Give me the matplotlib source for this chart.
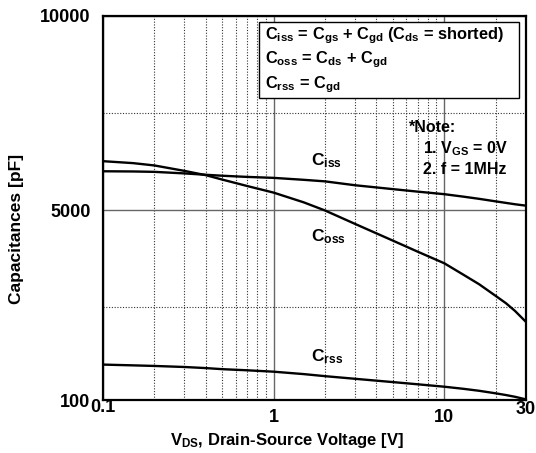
import matplotlib
matplotlib.use("Agg")
import matplotlib.pyplot as plt
import matplotlib.transforms as mtransforms
from matplotlib.ticker import FixedLocator, NullFormatter

plt.rcParams['font.family'] = ['Liberation Sans', 'DejaVu Sans']
plt.rcParams['mathtext.fontset'] = 'custom'
plt.rcParams['mathtext.rm'] = 'Liberation Sans:bold'
plt.rcParams['mathtext.it'] = 'Liberation Sans:bold'
plt.rcParams['mathtext.bf'] = 'Liberation Sans:bold'

# Drain-source voltage [V] and capacitances [pF]
vds = [0.1, 0.15, 0.2, 0.3, 0.4, 0.5, 0.7, 1, 1.5, 2, 3, 5, 7, 10, 13, 16, 20, 23, 26, 30]
ciss = [6000, 5995, 5985, 5945, 5910, 5885, 5855, 5830, 5780, 5740, 5640, 5540, 5475, 5410,
        5345, 5290, 5225, 5185, 5150, 5115]
coss = [6260, 6210, 6150, 6010, 5900, 5786, 5620, 5450, 5200, 4990, 4644, 4213, 3927, 3630,
        3330, 3090, 2790, 2600, 2400, 2126]
crss = [1020, 1000, 985, 958, 930, 902, 873, 837, 775, 722, 654, 569, 512, 450,
        395, 345, 280, 235, 190, 125]

x_ticks = [0.1, 1, 10, 30]
x_tick_labels = ["0.1", "1", "10", "30"]
x_minor = [0.2, 0.3, 0.4, 0.5, 0.6, 0.7, 0.8, 0.9, 2, 3, 4, 5, 6, 7, 8, 9, 20]
y_ticks = [100, 5000, 10000]
y_tick_labels = ["100", "5000", "10000"]
y_minor = [2500, 7500]

fig = plt.figure(figsize=(5.36, 4.53), dpi=100)
ax = fig.add_axes([103 / 536, 1 - 400.3 / 453, 422.7 / 536, 384.3 / 453])

ax.set_xscale('log')
ax.set_xlim(0.1, 30)
ax.set_ylim(100, 10000)

ax.xaxis.set_major_locator(FixedLocator(x_ticks))
ax.xaxis.set_minor_locator(FixedLocator(x_minor))
ax.xaxis.set_major_formatter(NullFormatter())
ax.xaxis.set_minor_formatter(NullFormatter())
ax.yaxis.set_major_locator(FixedLocator(y_ticks))
ax.yaxis.set_minor_locator(FixedLocator(y_minor))
ax.set_yticklabels(y_tick_labels, fontsize=13, fontweight='bold')
ax.tick_params(axis='both', which='both', length=0)
ax.tick_params(axis='y', pad=9)

ax.grid(True, which='major', color='#666666', linewidth=1.0, linestyle='-')
ax.grid(True, which='minor', color='#333333', linewidth=0.8, linestyle=(0, (1, 1.5)))
ax.set_axisbelow(True)

for s in ax.spines.values():
    s.set_linewidth(1.6)
    s.set_color('black')

for series in (ciss, coss, crss):
    ax.plot(vds, series, color='black', linewidth=1.7, solid_capstyle='butt')

# x tick labels (end labels sit slightly higher)
trans = mtransforms.blended_transform_factory(ax.transData, fig.transFigure)
x_label_y = [1 - 408 / 453, 1 - 418 / 453, 1 - 418 / 453, 1 - 410 / 453]
for xv, lab, yy in zip(x_ticks, x_tick_labels, x_label_y):
    ax.text(xv, yy, lab, transform=trans, ha='center', va='center',
            fontsize=13, fontweight='bold')

fig.text(287 / 536, 1 - 441 / 453, r'$\mathregular{V_{DS}}$, Drain-Source Voltage [V]',
         ha='center', va='center', fontsize=12, fontweight='bold')
fig.text(17 / 536, 1 - 229 / 453, 'Capacitances [pF]', rotation=90,
         ha='center', va='center', fontsize=12.5, fontweight='bold')

# definitions box
box_text = (r'$\mathregular{C_{iss}}$ = $\mathregular{C_{gs}}$ + $\mathregular{C_{gd}}$ '
            r'($\mathregular{C_{ds}}$ = shorted)' '\n'
            r'$\mathregular{C_{oss}}$ = $\mathregular{C_{ds}}$ + $\mathregular{C_{gd}}$' '\n'
            r'$\mathregular{C_{rss}}$ = $\mathregular{C_{gd}}$')
fig.text(265 / 536, 1 - 60 / 453, box_text, ha='left', va='center', fontsize=11.8,
         fontweight='bold', linespacing=1.3)
fig.patches.append(plt.Rectangle((259 / 536, 1 - 98 / 453), 260 / 536, 76.5 / 453,
                                 transform=fig.transFigure, fill=True, facecolor='white',
                                 edgecolor='black', linewidth=1.0, zorder=0))

# test conditions
fig.text(409 / 536, 1 - 127 / 453, '*Note:', ha='left', va='center', fontsize=11.5, fontweight='bold')
fig.text(423 / 536, 1 - 149 / 453, r'1. $\mathregular{V_{GS}}$ = 0V', ha='left', va='center',
         fontsize=11.5, fontweight='bold')
fig.text(423 / 536, 1 - 170 / 453, '2. f = 1MHz', ha='left', va='center', fontsize=11.5, fontweight='bold')

# curve labels
for name, ypix in (('iss', 161), ('oss', 237), ('rss', 357)):
    fig.text(311 / 536, 1 - ypix / 453, r'$\mathregular{C_{%s}}$' % name, ha='left', va='center',
             fontsize=12.5, fontweight='bold')

fig.savefig('out.png', dpi=100)
